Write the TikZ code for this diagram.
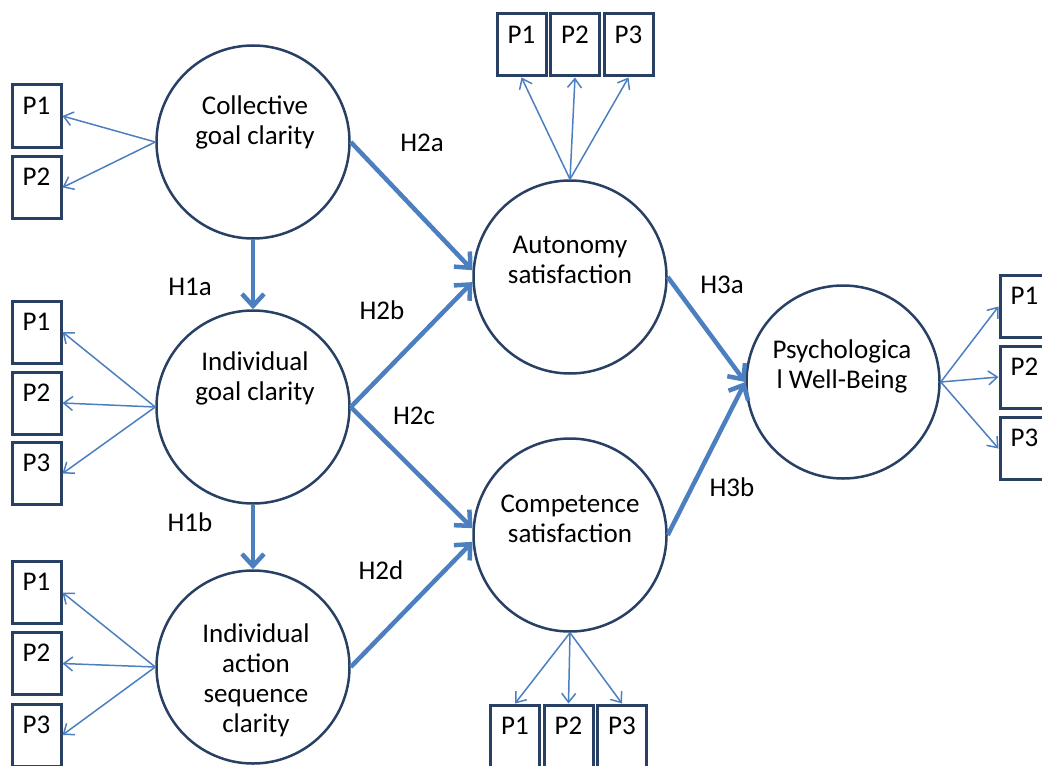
\documentclass[tikz,border=0pt]{standalone}
\usepackage{fontspec}
\setmainfont{Carlito}
\usetikzlibrary{arrows.meta}
\definecolor{navy}{RGB}{40,64,100}
\definecolor{ablue}{RGB}{76,127,192}
\begin{document}
\begin{tikzpicture}[x=0.5pt,y=-0.5pt,
  lat/.style={circle, draw=navy, line width=1.25pt, minimum size=96.5pt, inner sep=0pt},
  ind/.style={draw=navy, line width=1.5pt, minimum width=24.5pt, minimum height=31pt, inner sep=0pt},
  txt/.style={font=\fontsize{13.5}{15}\selectfont, align=center, inner sep=0pt},
  ptxt/.style={font=\fontsize{13.5}{15}\selectfont, inner sep=0pt},
  thinarr/.style={ablue, line width=0.75pt, -{Straight Barb[length=4.5pt,width=7pt]}},
  thickarr/.style={ablue, line width=2.25pt, -{Straight Barb[length=6pt,width=11pt]}}]
\clip (0,0) rectangle (1042,765);
\useasboundingbox (0,0) rectangle (1042,765);

% latent variables
\node[lat] (cgc) at (253,142) {};
\node[lat] (igc) at (253,407) {};
\node[lat] (ias) at (253,667) {};
\node[lat] (aut) at (570,277) {};
\node[lat] (com) at (570,535) {};
\node[lat] (pwb) at (843,382) {};

\node[txt] (cgct) at (255,122) {Collective\\goal clarity};
\node[txt] (igct) at (255,378) {Individual\\goal clarity};
\node[txt] (iast) at (256,680) {Individual\\action\\sequence\\clarity};
\node[txt] (autt) at (570,260) {Autonomy\\satisfaction};
\node[txt] (comt) at (570,519) {Competence\\satisfaction};
\node[txt] (pwbt) at (842,366) {Psychologica\\l Well-Being};

% indicators
\foreach \n/\x/\y/\t in {c1/36.5/116/P1, c2/36.5/187.5/P2,
    g1/36.5/332/P1, g2/36.5/403/P2, g3/36.5/473.5/P3,
    s1/36.5/592.5/P1, s2/36.5/663.5/P2, s3/36.5/735/P3,
    a1/521.5/45/P1, a2/575/45/P2, a3/628.5/45/P3,
    m1/515/736/P1, m2/568.5/736/P2, m3/622/736/P3,
    w1/1024.5/306.5/P1, w2/1024.5/377/P2, w3/1024.5/448.5/P3}
  \node[ind, label={[ptxt,anchor=center,yshift=-11pt]north:\t}] (\n) at (\x,\y) {};

% measurement arrows
\foreach \b in {c1,c2} \draw[thinarr] (cgc.west) -- (\b.east);
\foreach \b in {g1,g2,g3} \draw[thinarr] (igc.west) -- (\b.east);
\foreach \b in {s1,s2,s3} \draw[thinarr] (ias.west) -- (\b.east);
\foreach \b in {a1,a2,a3} \draw[thinarr] (aut.north) -- (\b.south);
\foreach \b in {m1,m2,m3} \draw[thinarr] (com.south) -- (\b.north);
\foreach \b in {w1,w2,w3} \draw[thinarr] (pwb.east) -- (\b.west);

% structural paths
\draw[thickarr] (cgc.east) -- (aut.176);
\draw[thickarr] (igc.east) -- (aut.183);
\draw[thickarr] (igc.east) -- (com.176);
\draw[thickarr] (ias.east) -- (com.184);
\draw[thickarr] (cgc.south) -- (igc.north);
\draw[thickarr] (igc.south) -- (ias.north);
\draw[thickarr] (aut.east) -- (pwb.west);
\draw[thickarr] (com.east) -- (pwb.west);

% path labels
\node[ptxt] (h1a) at (190,287) {H1a};
\node[ptxt] (h1b) at (190,522) {H1b};
\node[ptxt] (h2a) at (422,143) {H2a};
\node[ptxt] (h2b) at (382,310) {H2b};
\node[ptxt] (h2c) at (414,416) {H2c};
\node[ptxt] (h2d) at (381,570) {H2d};
\node[ptxt] (h3a) at (722,285) {H3a};
\node[ptxt] (h3b) at (732,487) {H3b};
\end{tikzpicture}
\end{document}
